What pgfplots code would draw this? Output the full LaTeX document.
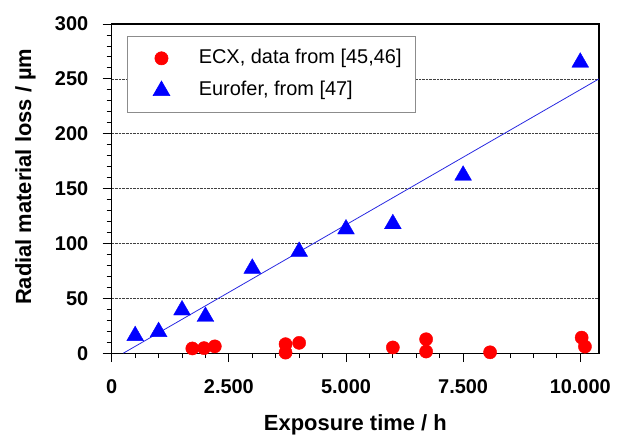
\documentclass[border=0pt]{standalone}
\usepackage{fontspec}
\setmainfont{Liberation Sans}
\usepackage{pgfplots}
\pgfplotsset{compat=1.18}
\usepackage{pgfplotstable}

\definecolor{fitblue}{RGB}{40,40,225}

% ECX (red circles)
\pgfplotstableread{
x y
1720 4.3
1970 4.6
2200 6.2
3710 8.2
3710 0.5
4000 9.4
6000 5.2
6710 12.7
6710 1.5
8075 0.8
10030 14.2
10100 6.0
}\ecx

% Eurofer (blue triangles)
\pgfplotstableread{
x y
500 15.8
1000 19.5
1500 39.2
2000 33.3
3000 77.2
4000 92.6
5000 113.0
6000 117.8
7500 162.0
10000 265.0
}\eurofer

\begin{document}
\begin{tikzpicture}
\begin{axis}[
  name=ax,
  scale only axis, width=487bp, height=329bp,
  xmin=0, xmax=10400, ymin=0, ymax=300,
  xtick={0,2500,5000,7500,10000},
  ytick={0,50,...,300},
  minor x tick num=4, minor y tick num=4,
  tick align=outside,
  xtick pos=bottom, ytick pos=left,
  major tick length=9bp, minor tick length=5bp,
  every tick/.style={black, line width=0.9pt},
  axis line style={line width=1.1pt},
  ymajorgrids,
  grid style={densely dotted, black!75, line width=0.6pt},
  scaled x ticks=false,
  /pgf/number format/assume math mode=true,
  /pgf/number format/1000 sep={.},
  ticklabel style={font=\fontsize{20}{23}\selectfont\bfseries},
  xticklabel style={yshift=-14bp},
  yticklabel style={xshift=-11bp},
  label style={font=\fontsize{22}{26}\selectfont\bfseries, inner sep=0pt},
  xlabel={Exposure time / h},
  ylabel={Radial material loss / µm},
  xlabel style={at={(axis description cs:0.5,-0.234)}, anchor=base},
  ylabel style={at={(axis description cs:-0.1657,0.536)}, anchor=base},
  legend style={
    at={(0.031,0.9635)}, anchor=north west,
    draw=black!45, line width=0.6pt,
    font=\fontsize{20}{24}\selectfont,
    inner xsep=14bp, inner ysep=13bp,
    row sep=13.7bp, column sep=17bp,
    nodes={inner sep=0pt, text height=14bp, text depth=4bp, anchor=west},
  },
  legend cell align=left,
  legend image code/.code={
    \path (0bp,0bp) (40bp,0bp);
    \draw[#1] plot coordinates {(20bp,0bp)};
  },
]
\addplot[only marks, mark=*, mark size=6.6bp, color=red, fill=red] table {\ecx};
\addlegendentry{ECX, data from [45,46]}
\addplot[only marks, mark=triangle*, mark size=9.7bp, color=blue, fill=blue] table {\eurofer};
\addlegendentry{Eurofer, from [47]}
\addplot[fitblue, line width=0.8pt, no marks, forget plot] coordinates {(248,0) (10400,250)};
\end{axis}
\path (ax.south west) ++(-111.7bp,-82bp) coordinate (bl);
\path (ax.north east) ++(31bp,24bp) coordinate (tr);
\path (bl) rectangle (tr);
\end{tikzpicture}
\end{document}
